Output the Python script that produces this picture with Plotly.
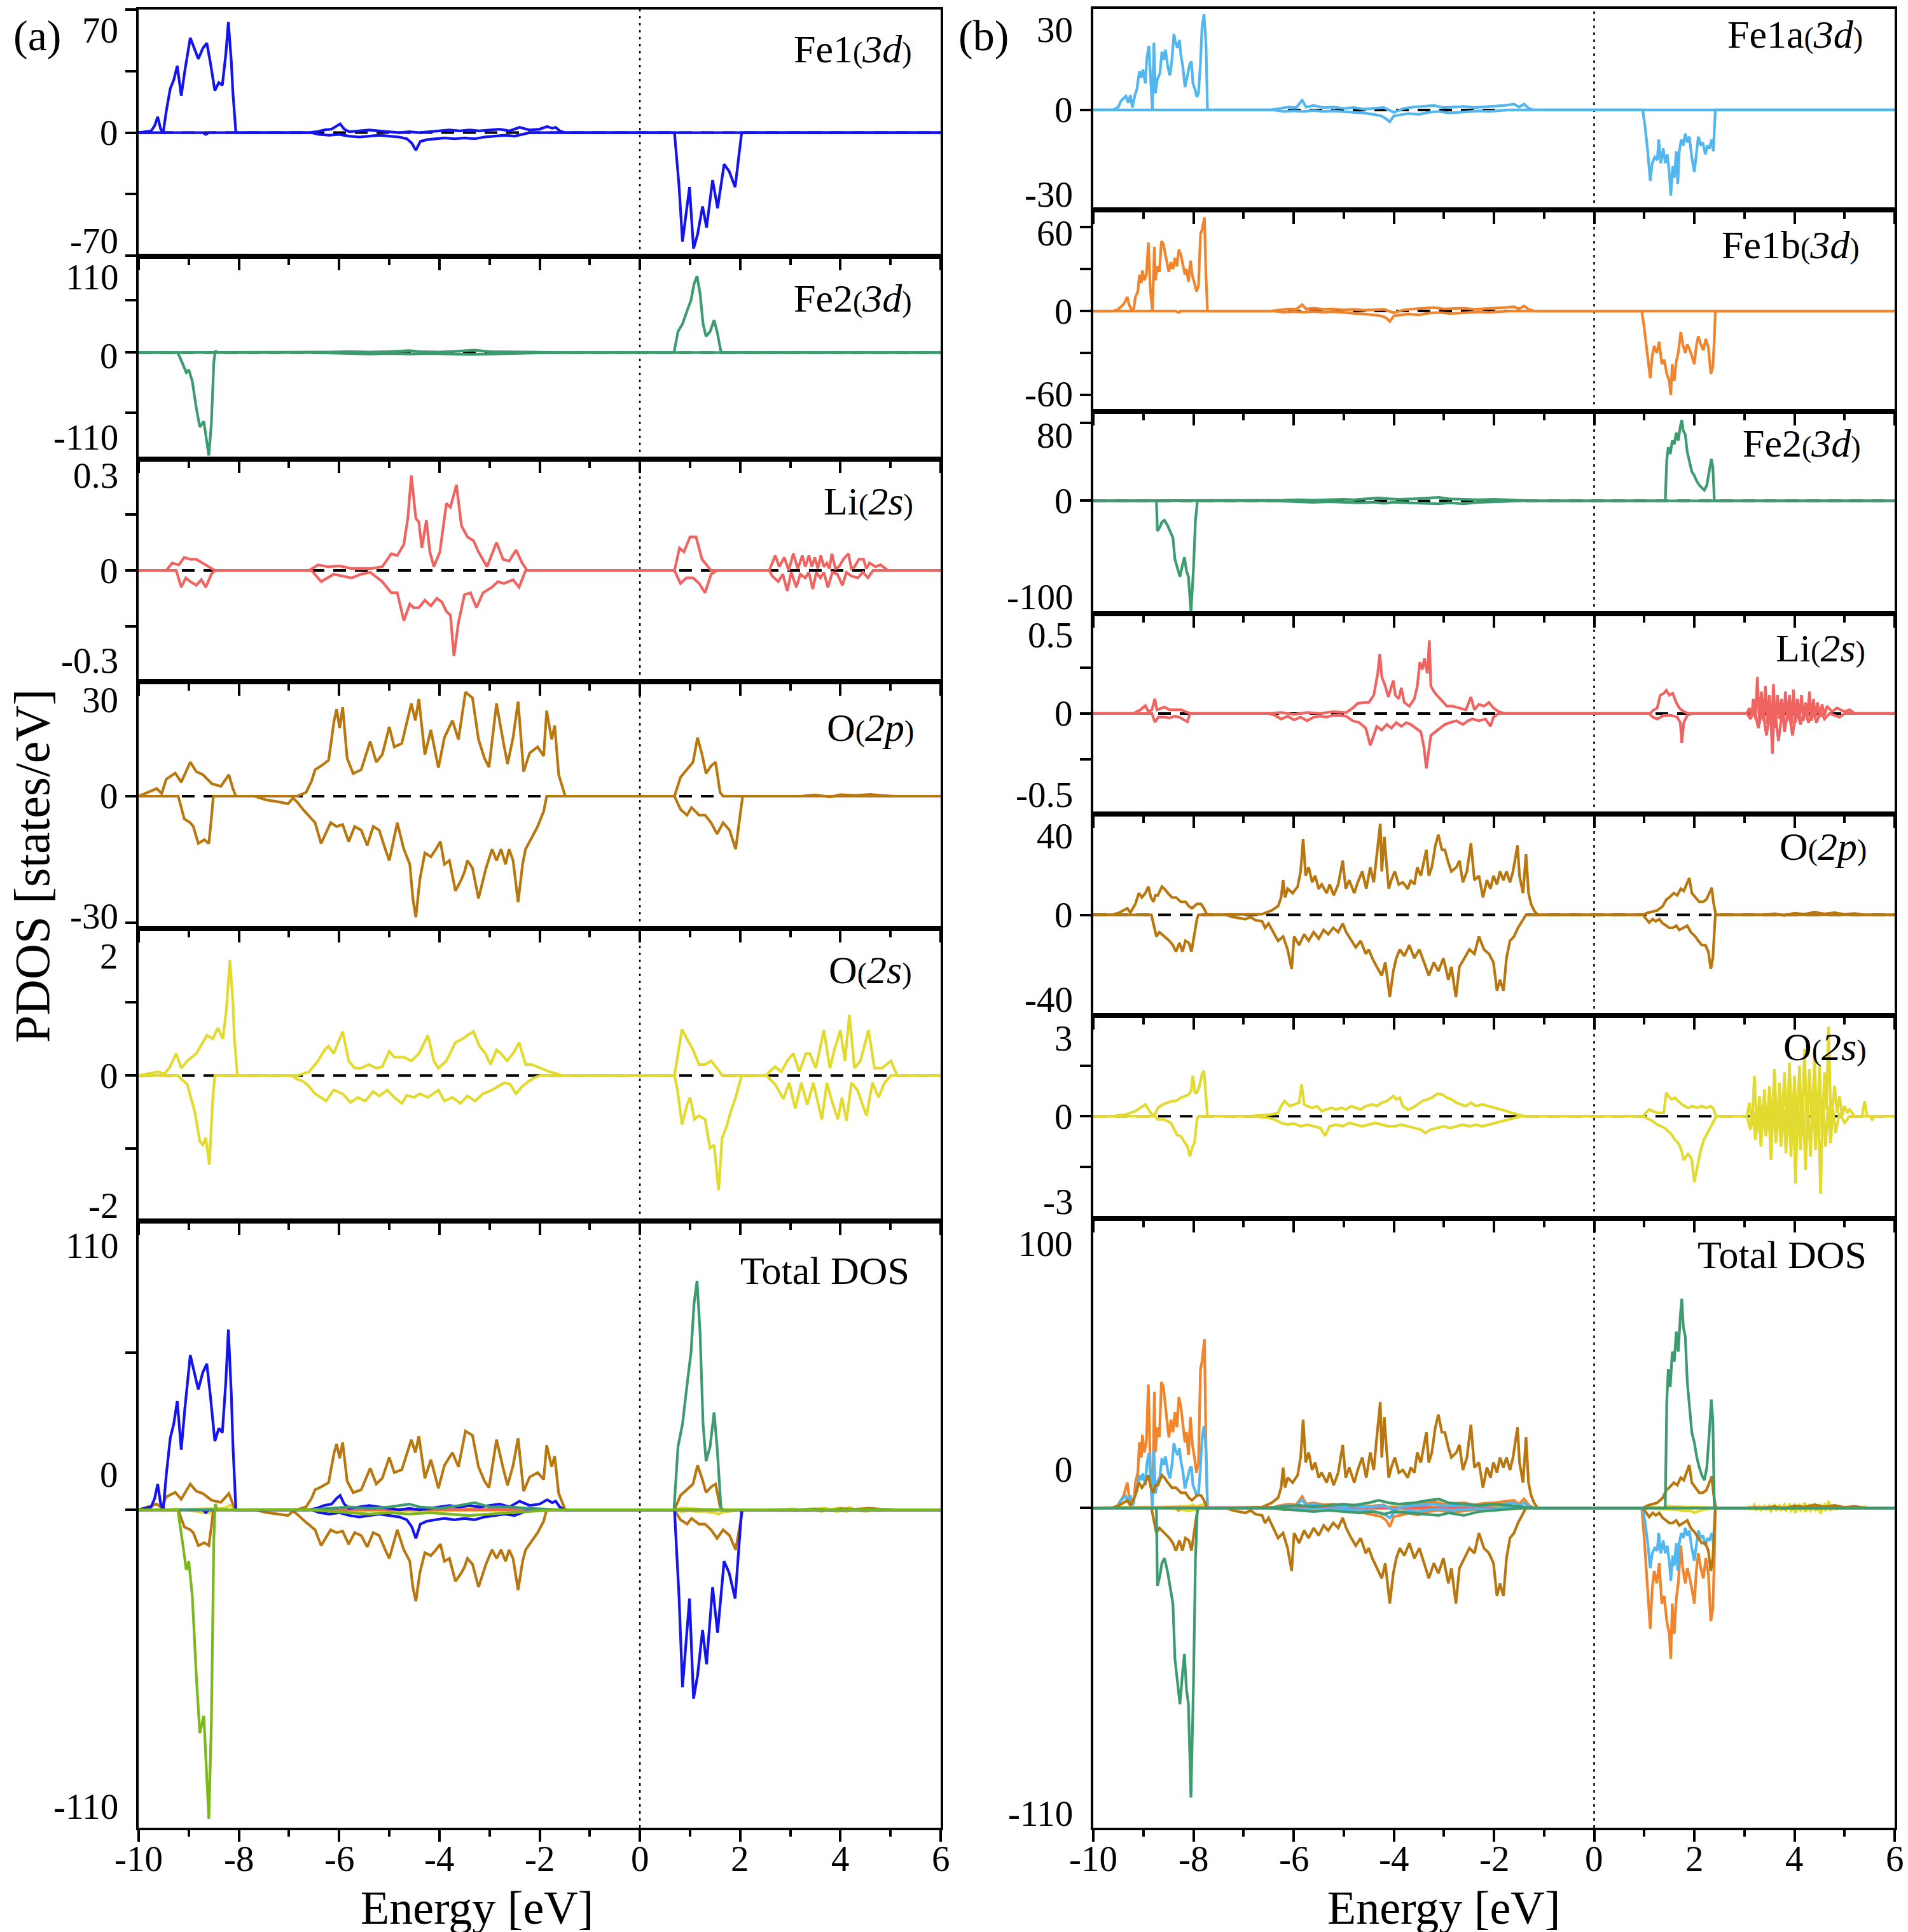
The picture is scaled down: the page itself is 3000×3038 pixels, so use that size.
import plotly.graph_objects as go

# ---------------------------------------------------------------
# PDOS curves: (energy [eV], states/eV) pairs
# ---------------------------------------------------------------

# (a) panels
a_fe1_up = [(-10, 0), (-9.75, 1), (-9.68, 4), (-9.62, 9), (-9.56, 2), (-9.51, 0), (-9.45, 12), (-9.37, 25), (-9.3, 30),
            (-9.23, 38), (-9.15, 21), (-9.08, 35), (-8.97, 54), (-8.89, 48), (-8.81, 42), (-8.72, 48), (-8.64, 51),
            (-8.57, 40), (-8.48, 24), (-8.4, 28.5), (-8.33, 27), (-8.26, 45), (-8.21, 63), (-8.15, 40), (-8.12, 23),
            (-8.06, 0), (-6.6, 0), (-6.45, 0.5), (-6.3, 1.5), (-6.15, 2), (-6.05, 4), (-5.98, 5), (-5.9, 2), (-5.8, 0.5),
            (-5.6, 1), (-5.4, 1.5), (-5.2, 1), (-5.0, 0.5), (-4.8, 0), (-4.6, 0.5), (-4.4, 0), (-4.2, 0.5), (-4.0, 1),
            (-3.8, 1.5), (-3.6, 1), (-3.4, 1.5), (-3.2, 1), (-3.0, 1.5), (-2.8, 2), (-2.6, 1), (-2.4, 3), (-2.2, 1.5),
            (-2.0, 2), (-1.85, 3.5), (-1.75, 2.5), (-1.68, 3), (-1.6, 1), (-1.5, 0), (6, 0)]
a_fe1_dn = [(-10, 0), (-8.72, 0), (-8.66, -1), (-8.6, 0), (-6.55, 0), (-6.4, -1), (-6.2, -1.5), (-6.0, -1), (-5.8, -2),
            (-5.6, -2.5), (-5.4, -2), (-5.2, -1.5), (-5.0, -2), (-4.8, -2.5), (-4.65, -3.5), (-4.55, -6), (-4.47, -10),
            (-4.38, -5), (-4.25, -4), (-4.1, -3.5), (-3.9, -3), (-3.7, -3.5), (-3.5, -3), (-3.3, -3.5), (-3.1, -2.5),
            (-2.9, -2), (-2.7, -1.5), (-2.5, -2), (-2.35, -1), (-2.2, 0), (0.69, 0), (0.78, -30), (0.85, -62),
            (0.92, -45), (0.99, -31), (1.07, -66), (1.15, -58), (1.25, -42), (1.33, -54), (1.45, -27), (1.55, -43),
            (1.68, -18), (1.78, -22), (1.9, -31), (2.03, 0), (6, 0)]
a_fe2_up = [(-10, 0), (-6.6, 0), (-6.2, 0.5), (-5.8, 1), (-5.4, 0.5), (-5.0, 1), (-4.6, 2), (-4.4, 1), (-4.0, 0.5),
            (-3.6, 1.5), (-3.3, 2.5), (-3.0, 1), (-2.6, 1), (-2.2, 0.5), (-1.6, 0), (0.68, 0), (0.76, 22), (0.85, 30),
            (0.95, 45), (1.02, 55), (1.08, 72), (1.14, 80), (1.2, 62), (1.26, 30), (1.32, 17), (1.4, 22), (1.48, 34),
            (1.54, 22), (1.62, 0), (6, 0)]
a_fe2_dn = [(-10, 0), (-9.22, 0), (-9.12, -12), (-9.05, -21), (-9.0, -18), (-8.93, -30), (-8.85, -58), (-8.78, -78),
            (-8.7, -72), (-8.64, -95), (-8.6, -108), (-8.55, -75), (-8.5, -10), (-8.47, 2), (-8.43, 0), (-6.6, 0),
            (-6.2, -0.5), (-5.8, -1), (-5.4, -1.5), (-5.0, -1), (-4.6, -1.5), (-4.2, -1), (-3.8, -1.5), (-3.4, -2),
            (-3.0, -1.5), (-2.6, -1), (-2.2, -0.5), (-1.7, 0), (6, 0)]
a_li_up = [(-10, 0), (-9.45, 0), (-9.33, 0.02), (-9.2, 0.015), (-9.09, 0.035), (-8.97, 0.03), (-8.85, 0.03),
           (-8.66, 0.015), (-8.48, 0), (-6.6, 0), (-6.42, 0.015), (-6.23, 0.01), (-5.99, 0.012), (-5.75, 0.005),
           (-5.38, 0.005), (-5.14, 0.01), (-4.96, 0.045), (-4.84, 0.04), (-4.71, 0.07), (-4.63, 0.14), (-4.56, 0.255),
           (-4.47, 0.14), (-4.41, 0.13), (-4.35, 0.06), (-4.26, 0.135), (-4.19, 0.05), (-4.11, 0.01), (-3.99, 0.05),
           (-3.86, 0.18), (-3.78, 0.17), (-3.66, 0.23), (-3.56, 0.12), (-3.44, 0.09), (-3.32, 0.08), (-3.22, 0.05),
           (-3.05, 0.01), (-2.86, 0.075), (-2.73, 0.03), (-2.61, 0.025), (-2.47, 0.055), (-2.35, 0.02), (-2.25, 0),
           (0.69, 0), (0.79, 0.06), (0.88, 0.05), (1.0, 0.09), (1.12, 0.09), (1.24, 0.03), (1.36, 0.01), (1.42, 0),
           (2.58, 0), (2.64, 0.02), (2.7, 0.04), (2.78, 0.01), (2.88, 0.035), (2.97, 0.0), (3.06, 0.045),
           (3.15, 0.005), (3.24, 0.04), (3.3, 0.01), (3.37, 0.04), (3.43, 0.01), (3.49, 0.035), (3.55, 0.005),
           (3.61, 0.04), (3.67, 0.01), (3.73, 0.02), (3.78, 0.005), (3.83, 0.045), (3.9, 0.005), (3.97, 0.01),
           (4.06, 0.03), (4.16, 0.045), (4.22, 0.005), (4.28, 0.01), (4.37, 0.03), (4.46, 0.03), (4.52, 0.005),
           (4.58, 0.02), (4.7, 0.01), (4.8, 0.015), (4.95, 0), (6, 0)]
a_li_dn = [(-10, 0), (-9.25, 0), (-9.15, -0.045), (-9.06, -0.02), (-8.97, -0.03), (-8.85, -0.04), (-8.75, -0.025),
           (-8.66, -0.045), (-8.55, -0.01), (-8.48, 0), (-6.55, 0), (-6.36, -0.03), (-6.11, -0.01), (-5.93, -0.015),
           (-5.75, -0.02), (-5.56, -0.01), (-5.38, -0.005), (-5.14, -0.03), (-4.96, -0.06), (-4.84, -0.06),
           (-4.71, -0.135), (-4.59, -0.09), (-4.51, -0.1), (-4.41, -0.1), (-4.29, -0.08), (-4.17, -0.095),
           (-4.05, -0.075), (-3.95, -0.085), (-3.86, -0.11), (-3.78, -0.12), (-3.71, -0.23), (-3.62, -0.14),
           (-3.5, -0.065), (-3.38, -0.06), (-3.26, -0.1), (-3.13, -0.06), (-2.95, -0.045), (-2.83, -0.03),
           (-2.71, -0.035), (-2.53, -0.025), (-2.41, -0.045), (-2.28, 0), (0.69, 0), (0.81, -0.035), (0.93, -0.02),
           (1.06, -0.02), (1.18, -0.035), (1.3, -0.06), (1.42, -0.01), (1.54, 0), (2.58, 0), (2.64, -0.015),
           (2.76, -0.03), (2.85, -0.01), (2.94, -0.055), (3.02, -0.005), (3.12, -0.045), (3.2, -0.01), (3.3, -0.02),
           (3.37, -0.005), (3.45, -0.05), (3.52, -0.005), (3.6, -0.02), (3.67, -0.005), (3.75, -0.045),
           (3.84, -0.005), (3.94, -0.01), (4.04, -0.04), (4.12, -0.005), (4.22, -0.015), (4.35, -0.02),
           (4.45, -0.005), (4.55, -0.02), (4.65, 0), (6, 0)]
a_o2p_up = [(-10, 0), (-9.82, 1), (-9.64, 2), (-9.54, 0.7), (-9.45, 4.5), (-9.27, 6.1), (-9.15, 3.7), (-8.97, 9),
            (-8.85, 6.5), (-8.72, 5.7), (-8.54, 3.3), (-8.36, 2.6), (-8.2, 5.7), (-8.12, 2), (-8.06, 0), (-6.84, 0),
            (-6.66, 1), (-6.55, 4), (-6.48, 7), (-6.36, 8), (-6.21, 9.5), (-6.1, 20), (-6.05, 23), (-5.99, 18),
            (-5.93, 23.5), (-5.84, 10), (-5.72, 6), (-5.56, 7), (-5.38, 14.5), (-5.26, 9), (-5.14, 11), (-5.0, 18.3),
            (-4.9, 13), (-4.75, 14), (-4.56, 24.5), (-4.48, 20), (-4.41, 25.7), (-4.29, 11), (-4.17, 17.5),
            (-4.02, 7.5), (-3.9, 15.5), (-3.74, 20), (-3.62, 15), (-3.48, 27.5), (-3.34, 26), (-3.22, 15),
            (-3.1, 10), (-3.01, 7.7), (-2.86, 24.5), (-2.73, 14.7), (-2.64, 8.5), (-2.53, 15.5), (-2.43, 25),
            (-2.32, 6.5), (-2.2, 11.4), (-2.04, 13), (-1.92, 10.6), (-1.86, 22.6), (-1.76, 15), (-1.7, 18.7),
            (-1.62, 5.7), (-1.49, 0), (0.69, 0), (0.81, 5), (0.94, 7), (1.06, 9), (1.15, 15.5), (1.24, 11),
            (1.32, 6), (1.42, 8), (1.51, 9), (1.6, 1), (1.66, 0), (3.2, 0), (3.5, 0.3), (3.8, -0.2), (4.0, 0.4),
            (4.3, 0.2), (4.6, 0.5), (4.8, 0.2), (5.1, 0), (6, 0)]
a_o2p_dn = [(-10, 0), (-9.21, 0), (-9.09, -6), (-8.97, -7), (-8.91, -8), (-8.81, -12.5), (-8.69, -11.5),
            (-8.6, -12.5), (-8.55, -6), (-8.51, 0), (-7.69, 0), (-7.45, -1), (-7.21, -1.5), (-7.02, -2),
            (-6.92, -0.5), (-6.84, -1.5), (-6.72, -3.5), (-6.62, -5), (-6.48, -7), (-6.36, -12.5), (-6.17, -7),
            (-6.05, -8), (-5.93, -7.5), (-5.81, -12), (-5.69, -8), (-5.56, -9), (-5.44, -13), (-5.32, -8),
            (-5.2, -9), (-5.08, -14), (-5.0, -17), (-4.84, -7), (-4.71, -14), (-4.59, -18), (-4.53, -27),
            (-4.47, -32), (-4.39, -22), (-4.29, -15), (-4.17, -16), (-4.07, -14), (-3.98, -12), (-3.9, -18),
            (-3.8, -17), (-3.68, -25), (-3.56, -22), (-3.5, -20), (-3.44, -17), (-3.34, -19), (-3.22, -27),
            (-3.07, -19), (-2.95, -14), (-2.86, -17), (-2.77, -14), (-2.68, -18), (-2.61, -14), (-2.53, -17),
            (-2.43, -28), (-2.34, -18), (-2.28, -14), (-2.16, -11), (-2.04, -8), (-1.92, -4), (-1.86, 0), (0.69, 0),
            (0.81, -3.5), (0.94, -5), (1.03, -3), (1.18, -5), (1.3, -5), (1.42, -7), (1.54, -10), (1.66, -7),
            (1.79, -9), (1.91, -14), (2.05, 0), (6, 0)]
a_o2s_up = [(-10, 0), (-9.76, 0.03), (-9.61, 0.05), (-9.49, 0.02), (-9.39, 0.1), (-9.25, 0.3), (-9.15, 0.1),
            (-9.03, 0.2), (-8.85, 0.3), (-8.72, 0.45), (-8.64, 0.55), (-8.52, 0.5), (-8.42, 0.65), (-8.32, 0.5),
            (-8.25, 0.9), (-8.18, 1.58), (-8.12, 1.0), (-8.09, 0.5), (-8.03, 0), (-6.84, 0), (-6.6, 0.05),
            (-6.42, 0.2), (-6.29, 0.35), (-6.21, 0.4), (-6.11, 0.3), (-5.93, 0.6), (-5.81, 0.2), (-5.69, 0.1),
            (-5.56, 0.1), (-5.41, 0.15), (-5.26, 0.1), (-5.14, 0.12), (-5.0, 0.33), (-4.9, 0.25), (-4.71, 0.25),
            (-4.56, 0.2), (-4.41, 0.3), (-4.23, 0.55), (-4.11, 0.2), (-4.02, 0.1), (-3.86, 0.2), (-3.68, 0.45),
            (-3.54, 0.5), (-3.44, 0.55), (-3.32, 0.6), (-3.2, 0.4), (-3.08, 0.3), (-2.98, 0.15), (-2.86, 0.35),
            (-2.77, 0.3), (-2.65, 0.2), (-2.53, 0.3), (-2.41, 0.45), (-2.28, 0.15), (-2.16, 0.15), (-1.98, 0.1),
            (-1.8, 0.05), (-1.68, 0.03), (-1.56, 0), (0.69, 0), (0.84, 0.63), (0.94, 0.5), (1.06, 0.35),
            (1.18, 0.15), (1.3, 0.15), (1.42, 0.2), (1.54, 0.1), (1.64, 0), (2.52, 0), (2.58, 0.05), (2.7, 0.12),
            (2.82, 0.05), (2.94, 0.2), (3.06, 0.3), (3.18, 0.05), (3.31, 0.3), (3.39, 0.3), (3.51, 0.1),
            (3.67, 0.62), (3.79, 0.1), (3.88, 0.35), (4.0, 0.62), (4.09, 0.2), (4.18, 0.83), (4.28, 0.1),
            (4.4, 0.2), (4.56, 0.62), (4.68, 0.1), (4.83, 0.1), (5.01, 0.2), (5.13, 0), (6, 0)]
a_o2s_dn = [(-10, 0), (-9.21, 0), (-9.15, -0.05), (-9.03, -0.12), (-8.88, -0.5), (-8.78, -0.9), (-8.72, -0.95),
            (-8.66, -0.85), (-8.59, -1.22), (-8.52, -0.3), (-8.48, 0), (-6.95, 0), (-6.84, -0.05), (-6.72, -0.08),
            (-6.6, -0.15), (-6.48, -0.25), (-6.36, -0.3), (-6.26, -0.35), (-6.11, -0.2), (-5.93, -0.25),
            (-5.77, -0.37), (-5.63, -0.3), (-5.48, -0.35), (-5.32, -0.22), (-5.2, -0.28), (-5.04, -0.2),
            (-4.9, -0.3), (-4.75, -0.38), (-4.65, -0.27), (-4.51, -0.3), (-4.39, -0.25), (-4.23, -0.3),
            (-4.02, -0.2), (-3.9, -0.35), (-3.74, -0.3), (-3.58, -0.38), (-3.44, -0.28), (-3.29, -0.35),
            (-3.13, -0.25), (-2.95, -0.2), (-2.83, -0.15), (-2.71, -0.1), (-2.59, -0.12), (-2.47, -0.25),
            (-2.35, -0.15), (-2.22, -0.08), (-2.1, -0.03), (-1.98, 0), (0.69, 0), (0.75, -0.2), (0.84, -0.67),
            (0.94, -0.4), (1.0, -0.3), (1.09, -0.6), (1.18, -0.55), (1.3, -0.6), (1.4, -0.99), (1.48, -0.95),
            (1.57, -1.57), (1.64, -0.85), (1.73, -0.7), (1.81, -0.5), (1.91, -0.3), (2.03, 0), (2.52, 0),
            (2.7, -0.12), (2.86, -0.32), (2.98, -0.1), (3.1, -0.45), (3.22, -0.1), (3.34, -0.4), (3.46, -0.1),
            (3.63, -0.6), (3.73, -0.1), (3.83, -0.35), (3.95, -0.6), (4.03, -0.3), (4.12, -0.62), (4.22, -0.1),
            (4.34, -0.2), (4.52, -0.55), (4.64, -0.1), (4.76, -0.3), (4.88, -0.1), (5.01, 0), (6, 0)]

# (b) panels
b_fe1a_up = [(-10, 0), (-9.61, 0), (-9.5, 1), (-9.45, 3), (-9.39, 4), (-9.35, 4.7), (-9.3, 2.4), (-9.26, 5),
             (-9.22, 0.8), (-9.17, 5), (-9.13, 7), (-9.08, 13), (-9.04, 11), (-9.01, 13.7), (-8.96, 9),
             (-8.93, 17.7), (-8.89, 21.7), (-8.85, 6.4), (-8.82, 0), (-8.79, 22.8), (-8.76, 5.7), (-8.72, 10.4),
             (-8.67, 12.4), (-8.63, 19.7), (-8.59, 17), (-8.56, 20.4), (-8.51, 14.4), (-8.47, 11.7), (-8.43, 17),
             (-8.39, 25.7), (-8.36, 23), (-8.32, 21), (-8.28, 23.7), (-8.25, 18.4), (-8.21, 14.4), (-8.17, 7.7),
             (-8.12, 11.7), (-8.07, 15.7), (-8.04, 16.4), (-8.01, 9), (-7.97, 7), (-7.93, 4.4), (-7.9, 5.7),
             (-7.86, 15.7), (-7.83, 27.7), (-7.79, 32.4), (-7.75, 22.4), (-7.72, 0), (-6.45, 0), (-6.3, 0.5),
             (-6.1, 1), (-5.95, 0.8), (-5.83, 3.3), (-5.75, 1), (-5.6, 1.5), (-5.4, 0.8), (-5.2, 1), (-5.0, 0.5),
             (-4.8, 0.8), (-4.6, 0.3), (-4.4, 0.5), (-4.2, 0.8), (-4.0, -0.8), (-3.8, 0.5), (-3.6, 1), (-3.4, 1.2),
             (-3.2, 1.5), (-3.0, 0.8), (-2.8, 1), (-2.6, 1.2), (-2.4, 0.8), (-2.2, 1), (-2.0, 1.2), (-1.8, 1.5),
             (-1.6, 2), (-1.5, 1), (-1.4, 2), (-1.3, 0.5), (-1.2, 0), (6, 0)]
b_fe1a_dn = [(-10, 0), (-6.4, 0), (-6.2, -0.5), (-6.0, -0.3), (-5.8, -0.5), (-5.6, -0.2), (-5.4, -0.5),
             (-5.2, -0.3), (-5.0, -0.6), (-4.8, -0.8), (-4.6, -1), (-4.4, -1.5), (-4.25, -2), (-4.15, -3),
             (-4.08, -4), (-4.0, -2), (-3.85, -1.5), (-3.7, -1.2), (-3.5, -1.5), (-3.3, -0.8), (-3.1, -0.5),
             (-2.9, -1), (-2.7, -0.8), (-2.5, -0.5), (-2.3, -0.3), (-2.1, -0.5), (-1.9, -0.2), (-1.7, 0), (0.97, 0),
             (1.02, -6), (1.07, -14), (1.12, -24), (1.16, -18), (1.21, -16), (1.26, -17), (1.29, -10), (1.33, -18),
             (1.38, -13), (1.42, -18), (1.46, -15), (1.5, -21), (1.53, -29), (1.57, -19), (1.6, -23), (1.64, -14),
             (1.67, -25), (1.7, -14), (1.74, -10), (1.78, -12), (1.82, -8), (1.86, -11), (1.9, -9), (1.95, -16),
             (2.0, -21), (2.04, -15), (2.08, -9), (2.13, -12), (2.17, -11), (2.22, -15), (2.26, -12), (2.3, -13),
             (2.35, -10), (2.38, -14), (2.42, 0), (6, 0)]
b_fe1b_up = [(-10, 0), (-9.61, 0), (-9.51, 1), (-9.45, 3), (-9.39, 5), (-9.35, 8), (-9.32, 10), (-9.29, 5),
             (-9.24, 1), (-9.19, 2), (-9.16, 10), (-9.11, 14), (-9.08, 26), (-9.04, 20), (-9.02, 29), (-8.98, 22),
             (-8.94, 26), (-8.9, 49), (-8.86, 15), (-8.82, 0), (-8.78, 46), (-8.76, 22), (-8.72, 32), (-8.68, 28),
             (-8.64, 50), (-8.6, 48), (-8.56, 39), (-8.52, 33), (-8.49, 28), (-8.45, 35), (-8.41, 30), (-8.37, 38),
             (-8.33, 32), (-8.29, 44), (-8.25, 40), (-8.21, 32), (-8.17, 26), (-8.14, 30), (-8.1, 21), (-8.06, 36),
             (-8.02, 25), (-7.98, 20), (-7.94, 14), (-7.9, 18), (-7.86, 55), (-7.83, 58), (-7.78, 67), (-7.75, 25),
             (-7.72, 0), (-6.45, 0), (-6.3, 0.8), (-6.1, 1.5), (-5.95, 1.2), (-5.83, 4.5), (-5.75, 1.5), (-5.6, 2),
             (-5.4, 1.2), (-5.2, 1.5), (-5.0, 0.8), (-4.8, 1.2), (-4.6, 0.5), (-4.4, 0.8), (-4.2, 1.2), (-4.0, -1.2),
             (-3.8, 0.8), (-3.6, 1.5), (-3.4, 2), (-3.2, 2.5), (-3.0, 1.5), (-2.8, 1.8), (-2.6, 2), (-2.4, 1.2),
             (-2.2, 1.8), (-2.0, 2), (-1.8, 2.5), (-1.6, 3), (-1.5, 1.5), (-1.4, 3.6), (-1.3, 1), (-1.2, 0), (6, 0)]
b_fe1b_dn = [(-10, 0), (-8.35, 0), (-8.3, -1), (-8.25, 0), (-6.4, 0), (-6.2, -0.8), (-6.0, -0.5), (-5.8, -0.8),
             (-5.6, -0.4), (-5.4, -0.8), (-5.2, -0.5), (-5.0, -1), (-4.8, -1.5), (-4.6, -2), (-4.4, -2.8),
             (-4.25, -3.5), (-4.15, -5), (-4.08, -7.5), (-4.0, -3.5), (-3.85, -2.8), (-3.7, -2.2), (-3.5, -2.8),
             (-3.3, -1.5), (-3.1, -1), (-2.9, -1.8), (-2.7, -1.5), (-2.5, -1), (-2.3, -0.6), (-2.1, -1),
             (-1.9, -0.4), (-1.7, 0), (0.95, 0), (1.0, -12), (1.06, -30), (1.12, -48), (1.16, -32), (1.2, -25),
             (1.25, -30), (1.3, -22), (1.35, -38), (1.4, -35), (1.45, -45), (1.5, -50), (1.53, -60), (1.56, -38),
             (1.6, -50), (1.64, -36), (1.68, -30), (1.73, -15), (1.77, -24), (1.82, -30), (1.86, -24), (1.9, -27),
             (1.95, -32), (2.0, -38), (2.04, -25), (2.08, -18), (2.13, -24), (2.18, -28), (2.23, -20), (2.28, -26),
             (2.33, -45), (2.37, -40), (2.4, -20), (2.42, 0), (6, 0)]
b_fe2_up = [(-10, 0), (-6.5, 0), (-6.2, 0.5), (-5.9, 1), (-5.6, 0.5), (-5.3, 1), (-5.0, 1.5), (-4.8, 1), (-4.5, 2),
            (-4.3, 3), (-4.1, 2), (-3.9, 1.5), (-3.6, 2), (-3.3, 3), (-3.1, 3.5), (-2.9, 2), (-2.6, 1.5), (-2.3, 1),
            (-2.0, 1.5), (-1.7, 1), (-1.4, 0.5), (-1.2, 0), (1.42, 0), (1.45, 42), (1.48, 55), (1.52, 48),
            (1.56, 62), (1.6, 58), (1.64, 70), (1.68, 62), (1.72, 76), (1.75, 83), (1.78, 72), (1.82, 68),
            (1.86, 50), (1.9, 42), (1.95, 30), (2.0, 26), (2.05, 20), (2.1, 16), (2.15, 13), (2.2, 11), (2.25, 16),
            (2.3, 30), (2.34, 43), (2.37, 35), (2.4, 0), (6, 0)]
b_fe2_dn = [(-10, 0), (-8.74, 0), (-8.72, -31), (-8.67, -27), (-8.63, -22), (-8.58, -20), (-8.52, -25),
            (-8.46, -32), (-8.41, -38), (-8.37, -60), (-8.32, -68), (-8.27, -78), (-8.22, -66), (-8.18, -58),
            (-8.14, -72), (-8.1, -78), (-8.05, -115), (-8.0, -70), (-7.96, -20), (-7.92, 0), (-6.5, 0),
            (-6.2, -0.5), (-5.9, -1), (-5.6, -1.5), (-5.3, -1), (-5.0, -1.5), (-4.7, -2), (-4.4, -1.5),
            (-4.2, -2.5), (-4.0, -1.5), (-3.7, -2), (-3.4, -2.5), (-3.1, -3), (-2.9, -2), (-2.6, -3), (-2.3, -1.5),
            (-2.0, -1), (-1.7, -0.5), (-1.4, 0), (6, 0)]
b_li_up = [(-10, 0), (-9.2, 0), (-9.13, 0.01), (-9.06, 0.02), (-8.96, 0.043), (-8.9, 0.01), (-8.83, 0.02),
           (-8.77, 0.08), (-8.73, 0.02), (-8.65, 0.03), (-8.58, 0.035), (-8.48, 0.02), (-8.38, 0.02), (-8.25, 0.02),
           (-8.16, 0.01), (-8.06, 0), (-6.5, 0), (-6.25, 0.005), (-5.99, -0.005), (-5.73, 0.005), (-5.47, 0),
           (-5.21, 0.01), (-4.95, 0.005), (-4.82, 0.03), (-4.72, 0.055), (-4.6, 0.06), (-4.5, 0.06), (-4.4, 0.1),
           (-4.32, 0.22), (-4.28, 0.325), (-4.24, 0.2), (-4.17, 0.15), (-4.11, 0.09), (-4.01, 0.18), (-3.97, 0.1),
           (-3.9, 0.08), (-3.85, 0.14), (-3.79, 0.06), (-3.69, 0.04), (-3.59, 0.08), (-3.53, 0.15), (-3.48, 0.28),
           (-3.43, 0.24), (-3.39, 0.3), (-3.33, 0.22), (-3.29, 0.4), (-3.26, 0.15), (-3.2, 0.12), (-3.14, 0.1),
           (-3.04, 0.07), (-2.94, 0.04), (-2.82, 0.04), (-2.69, 0.03), (-2.56, 0.02), (-2.46, 0.09), (-2.39, 0.02),
           (-2.3, 0.05), (-2.2, 0.04), (-2.1, 0.06), (-2.01, 0.03), (-1.91, 0.01), (-1.78, 0), (1.12, 0),
           (1.19, 0.02), (1.26, 0.03), (1.32, 0.1), (1.39, 0.11), (1.44, 0.127), (1.5, 0.1), (1.57, 0.11),
           (1.64, 0.06), (1.7, 0.03), (1.79, 0.01), (1.88, 0), (3.05, 0), (3.1, 0.03), (3.14, -0.02), (3.18, 0.08),
           (3.22, -0.03), (3.26, 0.2), (3.3, -0.05), (3.34, 0.12), (3.38, -0.04), (3.42, 0.15), (3.46, -0.06),
           (3.5, 0.1), (3.54, -0.1), (3.58, 0.16), (3.62, -0.08), (3.66, 0.1), (3.7, -0.03), (3.74, 0.08),
           (3.78, -0.05), (3.82, 0.12), (3.86, -0.04), (3.9, 0.1), (3.94, -0.06), (3.98, 0.13), (4.02, -0.05),
           (4.06, 0.08), (4.1, -0.03), (4.14, 0.1), (4.18, -0.04), (4.22, 0.06), (4.26, -0.02), (4.3, 0.12),
           (4.34, -0.04), (4.38, 0.08), (4.42, -0.02), (4.46, 0.06), (4.5, -0.02), (4.55, 0.05), (4.6, -0.01),
           (4.65, 0.04), (4.75, 0.01), (4.85, 0.03), (5.0, 0.01), (5.1, 0.02), (5.2, 0), (6, 0)]
b_li_dn = [(-10, 0), (-8.83, 0), (-8.77, -0.047), (-8.7, -0.02), (-8.58, -0.02), (-8.48, -0.025), (-8.38, -0.015),
           (-8.28, -0.02), (-8.19, -0.035), (-8.12, -0.045), (-8.07, 0), (-6.5, 0), (-6.38, -0.01), (-6.25, -0.03),
           (-6.12, -0.015), (-5.99, -0.035), (-5.86, -0.02), (-5.73, -0.04), (-5.6, -0.02), (-5.47, -0.015),
           (-5.34, -0.02), (-5.21, -0.01), (-5.08, -0.01), (-4.95, -0.015), (-4.82, -0.04), (-4.69, -0.05),
           (-4.56, -0.08), (-4.47, -0.174), (-4.4, -0.12), (-4.34, -0.07), (-4.24, -0.09), (-4.14, -0.06),
           (-4.05, -0.08), (-3.95, -0.05), (-3.85, -0.07), (-3.75, -0.05), (-3.66, -0.06), (-3.56, -0.08),
           (-3.46, -0.1), (-3.4, -0.18), (-3.35, -0.3), (-3.3, -0.2), (-3.26, -0.12), (-3.17, -0.1), (-3.07, -0.08),
           (-2.98, -0.06), (-2.88, -0.05), (-2.75, -0.04), (-2.62, -0.06), (-2.52, -0.04), (-2.43, -0.03),
           (-2.3, -0.04), (-2.17, -0.03), (-2.07, -0.07), (-2.01, -0.02), (-1.91, 0), (1.1, 0), (1.17, -0.02),
           (1.26, -0.03), (1.39, -0.01), (1.53, -0.01), (1.66, -0.02), (1.72, -0.05), (1.75, -0.16), (1.79, -0.05),
           (1.86, -0.01), (1.95, 0), (3.05, 0), (3.12, -0.03), (3.2, 0.02), (3.28, -0.08), (3.36, 0.03),
           (3.44, -0.12), (3.52, 0.02), (3.56, -0.22), (3.6, 0.04), (3.68, -0.15), (3.76, 0.02), (3.8, -0.1),
           (3.88, 0.03), (3.96, -0.12), (4.04, 0.02), (4.12, -0.06), (4.2, 0.02), (4.28, -0.05), (4.36, 0.02),
           (4.44, -0.05), (4.52, 0.01), (4.6, -0.03), (4.7, 0), (4.9, -0.02), (5.0, 0), (6, 0)]
b_o2p_up = [(-10, 0), (-9.61, 0), (-9.48, 1), (-9.39, 2), (-9.32, 3), (-9.26, 1), (-9.16, 5), (-9.09, 10), (-9.03, 8),
            (-8.96, 10), (-8.9, 13), (-8.85, 8), (-8.8, 6), (-8.76, 9), (-8.71, 9), (-8.63, 13), (-8.58, 12),
            (-8.51, 10), (-8.43, 8), (-8.35, 8), (-8.25, 6), (-8.16, 6), (-8.09, 4), (-8.03, 3), (-7.93, 5),
            (-7.85, 5), (-7.79, 3), (-7.73, 0), (-7.02, 0), (-6.63, 0.3), (-6.44, 2), (-6.31, 4), (-6.25, 8),
            (-6.21, 16), (-6.17, 8), (-6.12, 12), (-6.02, 10), (-5.92, 13), (-5.86, 20), (-5.81, 35), (-5.76, 18),
            (-5.7, 22), (-5.63, 15), (-5.57, 18), (-5.5, 12), (-5.44, 14), (-5.34, 10), (-5.28, 14), (-5.2, 9),
            (-5.11, 14), (-5.02, 25), (-4.96, 12), (-4.89, 16), (-4.79, 10), (-4.72, 15), (-4.63, 20), (-4.55, 12),
            (-4.47, 22), (-4.4, 15), (-4.34, 28), (-4.27, 42), (-4.24, 20), (-4.19, 36), (-4.14, 22), (-4.1, 12),
            (-4.05, 16), (-3.98, 20), (-3.9, 14), (-3.82, 15), (-3.72, 12), (-3.66, 16), (-3.59, 14), (-3.53, 22),
            (-3.46, 18), (-3.35, 30), (-3.3, 18), (-3.24, 22), (-3.17, 32), (-3.11, 37), (-3.04, 30), (-2.98, 30),
            (-2.91, 24), (-2.85, 20), (-2.75, 22), (-2.69, 25), (-2.62, 15), (-2.54, 20), (-2.46, 33), (-2.39, 16),
            (-2.3, 18), (-2.22, 8), (-2.14, 16), (-2.07, 12), (-2.01, 18), (-1.94, 14), (-1.88, 20), (-1.81, 16),
            (-1.75, 20), (-1.68, 15), (-1.62, 20), (-1.53, 32), (-1.49, 18), (-1.42, 10), (-1.36, 28), (-1.31, 10),
            (-1.26, 5), (-1.2, 2), (-1.13, 0), (0.97, 0), (1.08, 1), (1.26, 2), (1.37, 4), (1.44, 7), (1.5, 8),
            (1.59, 10), (1.66, 9), (1.73, 12), (1.79, 11), (1.86, 15), (1.9, 17), (1.95, 10), (2.02, 8), (2.1, 6),
            (2.17, 6), (2.24, 7), (2.3, 10), (2.35, 12.5), (2.38, 6), (2.43, 0), (3.4, 0), (3.6, 0.5), (3.8, -0.3),
            (4.0, 0.8), (4.2, 0.3), (4.4, 1.2), (4.6, 0.4), (4.8, 1.0), (5.0, 0.2), (5.2, 0.6), (5.4, 0), (6, 0)]
b_o2p_dn = [(-10, 0), (-8.84, 0), (-8.74, -10), (-8.68, -8), (-8.58, -10), (-8.48, -12), (-8.41, -14), (-8.35, -17),
            (-8.28, -13), (-8.22, -17), (-8.16, -12), (-8.09, -13), (-8.04, -17), (-7.99, -10), (-7.93, -2),
            (-7.9, 0), (-7.35, 0), (-7.22, -1), (-7.09, -1.5), (-6.96, -2), (-6.86, -1), (-6.76, -2.5), (-6.63, -3),
            (-6.57, -6), (-6.5, -4), (-6.41, -8), (-6.31, -12), (-6.21, -10), (-6.12, -16), (-6.04, -25),
            (-5.99, -10), (-5.89, -14), (-5.79, -9), (-5.7, -12), (-5.6, -8), (-5.5, -11), (-5.4, -7), (-5.31, -9),
            (-5.21, -6), (-5.11, -8), (-5.02, -4), (-4.95, -8), (-4.85, -12), (-4.76, -15), (-4.66, -12),
            (-4.56, -18), (-4.5, -16), (-4.43, -20), (-4.34, -24), (-4.24, -28), (-4.17, -22), (-4.08, -38),
            (-4.01, -26), (-3.95, -20), (-3.88, -16), (-3.79, -19), (-3.69, -14), (-3.59, -20), (-3.49, -16),
            (-3.4, -22), (-3.3, -28), (-3.2, -22), (-3.11, -26), (-3.01, -20), (-2.91, -30), (-2.85, -24),
            (-2.76, -38), (-2.69, -24), (-2.59, -20), (-2.49, -16), (-2.39, -18), (-2.3, -10), (-2.2, -16),
            (-2.1, -18), (-2.01, -22), (-1.94, -35), (-1.88, -30), (-1.81, -35), (-1.75, -20), (-1.68, -12),
            (-1.6, -10), (-1.52, -6), (-1.44, -3), (-1.36, 0), (0.97, 0), (1.03, -1.5), (1.1, -3.6), (1.17, -2),
            (1.23, -3), (1.3, -2), (1.37, -4), (1.44, -5), (1.5, -6), (1.57, -6), (1.64, -5), (1.7, -7), (1.79, -6),
            (1.86, -5), (1.93, -8), (2.02, -10), (2.08, -12), (2.15, -14), (2.22, -14), (2.28, -17), (2.33, -25),
            (2.37, -20), (2.42, 0), (6, 0)]
b_o2s_up = [(-10, 0), (-9.6, 0), (-9.35, 0.05), (-9.16, 0.15), (-9.06, 0.25), (-8.96, 0.35), (-8.9, 0.2),
            (-8.83, 0.05), (-8.77, 0.05), (-8.71, 0.25), (-8.61, 0.35), (-8.51, 0.4), (-8.43, 0.45), (-8.35, 0.45),
            (-8.25, 0.55), (-8.16, 0.6), (-8.09, 0.65), (-8.05, 0.75), (-8.01, 1.2), (-7.97, 0.7), (-7.93, 0.7),
            (-7.88, 0.9), (-7.83, 1.25), (-7.79, 1.35), (-7.75, 0.5), (-7.72, 0), (-6.89, 0), (-6.63, 0.02),
            (-6.44, 0.05), (-6.31, 0.1), (-6.25, 0.3), (-6.18, 0.45), (-6.08, 0.3), (-5.99, 0.35), (-5.89, 0.4),
            (-5.84, 0.95), (-5.79, 0.35), (-5.73, 0.3), (-5.63, 0.25), (-5.53, 0.3), (-5.44, 0.15), (-5.34, 0.2),
            (-5.24, 0.25), (-5.15, 0.2), (-5.05, 0.25), (-4.95, 0.2), (-4.85, 0.3), (-4.76, 0.25), (-4.66, 0.2),
            (-4.56, 0.3), (-4.43, 0.35), (-4.34, 0.3), (-4.24, 0.4), (-4.14, 0.45), (-4.01, 0.6), (-3.95, 0.5),
            (-3.88, 0.55), (-3.82, 0.3), (-3.72, 0.2), (-3.62, 0.25), (-3.53, 0.35), (-3.43, 0.45), (-3.33, 0.5),
            (-3.24, 0.55), (-3.14, 0.66), (-3.04, 0.65), (-2.94, 0.55), (-2.85, 0.5), (-2.75, 0.4), (-2.65, 0.35),
            (-2.56, 0.3), (-2.46, 0.4), (-2.36, 0.3), (-2.23, 0.35), (-2.1, 0.3), (-1.97, 0.25), (-1.84, 0.2),
            (-1.74, 0.15), (-1.65, 0.1), (-1.52, 0.05), (-1.39, 0), (0.97, 0), (1.03, 0.1), (1.1, 0.2),
            (1.17, 0.15), (1.26, 0.1), (1.39, 0.1), (1.44, 0.7), (1.48, 0.6), (1.55, 0.5), (1.61, 0.55),
            (1.68, 0.45), (1.75, 0.35), (1.81, 0.3), (1.88, 0.25), (1.97, 0.3), (2.06, 0.25), (2.15, 0.3),
            (2.24, 0.25), (2.33, 0.3), (2.39, 0.2), (2.43, 0), (3.05, 0), (3.1, 0.4), (3.15, -0.3), (3.2, 1.2),
            (3.25, -0.5), (3.3, 0.6), (3.35, -0.2), (3.4, 0.8), (3.45, -0.4), (3.5, 0.9), (3.55, -0.3), (3.6, 1.4),
            (3.65, -0.5), (3.7, 1.0), (3.75, -0.2), (3.8, 1.3), (3.85, -0.6), (3.9, 1.6), (3.95, -0.4), (4.0, 1.2),
            (4.05, -0.5), (4.1, 1.5), (4.15, -0.6), (4.2, 2.0), (4.25, -0.4), (4.3, 1.4), (4.35, -0.3), (4.4, 1.8),
            (4.45, -0.5), (4.5, 1.5), (4.55, -0.6), (4.6, 1.3), (4.64, 0.2), (4.68, 2.66), (4.73, -0.3), (4.8, 0.9),
            (4.85, 0.1), (4.9, 0.6), (4.95, 0.0), (5.0, 0.3), (5.05, 0.1), (5.1, 0.2), (5.2, 0), (5.35, 0),
            (5.4, 0.45), (5.45, 0), (6, 0)]
b_o2s_dn = [(-10, 0), (-8.77, 0), (-8.71, -0.1), (-8.58, -0.1), (-8.45, -0.2), (-8.4, -0.35), (-8.33, -0.55),
            (-8.25, -0.6), (-8.19, -0.75), (-8.12, -0.9), (-8.07, -1.19), (-8.02, -0.9), (-7.98, -0.8),
            (-7.93, -0.1), (-7.9, 0), (-6.89, 0), (-6.63, -0.03), (-6.5, -0.05), (-6.38, -0.1), (-6.25, -0.2),
            (-6.12, -0.25), (-5.99, -0.22), (-5.86, -0.3), (-5.73, -0.25), (-5.6, -0.3), (-5.47, -0.35),
            (-5.37, -0.58), (-5.28, -0.3), (-5.15, -0.25), (-5.02, -0.3), (-4.89, -0.2), (-4.76, -0.25),
            (-4.63, -0.3), (-4.5, -0.25), (-4.37, -0.2), (-4.24, -0.25), (-4.11, -0.3), (-3.98, -0.3),
            (-3.85, -0.25), (-3.72, -0.3), (-3.59, -0.35), (-3.46, -0.4), (-3.37, -0.5), (-3.27, -0.4),
            (-3.14, -0.35), (-3.01, -0.3), (-2.88, -0.35), (-2.75, -0.3), (-2.62, -0.25), (-2.49, -0.3),
            (-2.36, -0.25), (-2.23, -0.3), (-2.1, -0.25), (-1.97, -0.2), (-1.84, -0.15), (-1.71, -0.1),
            (-1.58, -0.05), (-1.45, 0), (0.97, 0), (1.03, -0.05), (1.1, -0.1), (1.17, -0.15), (1.26, -0.25),
            (1.35, -0.3), (1.41, -0.35), (1.48, -0.45), (1.55, -0.55), (1.61, -0.7), (1.68, -0.8), (1.74, -1.0),
            (1.79, -1.3), (1.84, -1.2), (1.88, -1.1), (1.95, -1.3), (2.0, -1.96), (2.06, -1.5), (2.13, -1.0),
            (2.19, -0.7), (2.26, -0.5), (2.33, -0.3), (2.39, -0.15), (2.44, 0), (3.05, 0), (3.12, -0.4),
            (3.17, 0.2), (3.22, -0.7), (3.28, 0.3), (3.33, -0.9), (3.38, 0.2), (3.43, -0.6), (3.48, 0.3),
            (3.53, -1.3), (3.58, 0.4), (3.63, -0.8), (3.68, 0.3), (3.73, -0.9), (3.78, 0.2), (3.83, -1.1),
            (3.88, 0.5), (3.93, -1.2), (3.98, 0.3), (4.02, -2.0), (4.07, 0.4), (4.12, -1.0), (4.17, 0.5),
            (4.22, -1.6), (4.27, 0.3), (4.32, -1.2), (4.37, 0.6), (4.42, -1.0), (4.47, 0.4), (4.52, -2.3),
            (4.57, 0.5), (4.62, -0.9), (4.67, 0.3), (4.72, -0.8), (4.77, 0.2), (4.82, -0.5), (4.9, 0.1),
            (5.0, -0.2), (5.1, 0), (5.5, 0), (5.55, -0.1), (5.6, 0), (6, 0)]

# axis tick label texts
energy_ticks = [-10, -8, -6, -4, -2, 0, 2, 4, 6]
energy_labels = ['-10', '-8', '-6', '-4', '-2', '0', '2', '4', '6']
a_fe1_labels = ['70', '0', '-70']
a_fe2_labels = ['110', '0', '-110']
a_li_labels = ['0.3', '0', '-0.3']
a_o2p_labels = ['30', '0', '-30']
a_o2s_labels = ['2', '0', '-2']
a_tot_labels = ['110', '0', '-110']
b_fe1a_labels = ['30', '0', '-30']
b_fe1b_labels = ['60', '0', '-60']
b_fe2_labels = ['80', '0', '-100']
b_li_labels = ['0.5', '0', '-0.5']
b_o2p_labels = ['40', '0', '-40']
b_o2s_labels = ['3', '0', '-3']
b_tot_labels = ['100', '0', '-110']

# ---------------------------------------------------------------
W, H = 3000, 3038
FONT = 'Liberation Serif'
BLUE = '#1414f0'
TEAL = '#3c9c70'
LIME = '#7ab81e'
RED = '#ef6461'
BROWN = '#b8770f'
YELLOW = '#e3da30'
LBLUE = '#52b6ef'
ORANGE = '#f1852d'
LW = 4.2
TICKFONT = dict(family=FONT, size=57, color='black')


def orb(name, o):
    sm = '<span style="font-size:46px">%s</span>'
    return name + sm % '(' + '<i>' + o + '</i>' + sm % ')'


COLX = {'a': (210, 1471), 'b': (1711, 2971)}
LABX = {'a': 180, 'b': 1681}

# panel geometry in figure pixels; y range / label spots in data units
panels = [
    dict(col='a', top=7, bot=395, yr=[-70.4, 70.1], ticks=[-70, -35, 0, 35, 70],
         labs=[58.5, 0, -61.4], text=a_fe1_labels, title=orb('Fe1', '3d'), tpos=(1428, 69),
         curves=[(a_fe1_up, BLUE), (a_fe1_dn, BLUE)]),
    dict(col='a', top=395, bot=714, yr=[-111.7, 100.9], ticks=[-63, 0, 55],
         labs=[79, -3.5, -89], text=a_fe2_labels, title=orb('Fe2', '3d'), tpos=(1428, 461),
         curves=[(a_fe2_up, TEAL), (a_fe2_dn, TEAL)]),
    dict(col='a', top=714, bot=1064, yr=[-0.299, 0.299], ticks=[-0.15, 0, 0.15],
         labs=[0.255, 0, -0.241], text=a_li_labels, title=orb('Li', '2s'), tpos=(1430, 780),
         curves=[(a_li_up, RED), (a_li_dn, RED)]),
    dict(col='a', top=1064, bot=1452, yr=[-34.96, 30.25], ticks=[-33.4, 0],
         labs=[25.5, 0, -31.6], text=a_o2p_labels, title=orb('O', '2p'), tpos=(1431, 1136),
         curves=[(a_o2p_up, BROWN), (a_o2p_dn, BROWN)]),
    dict(col='a', top=1452, bot=1912, yr=[-1.99, 2.01], ticks=[-1, 0, 1],
         labs=[1.63, 0, -1.78], text=a_o2s_labels, title=orb('O', '2s'), tpos=(1428, 1517),
         curves=[(a_o2s_up, YELLOW), (a_o2s_dn, YELLOW)]),
    dict(col='a', top=1912, bot=2866, yr=[-111.1, 100.9], ticks=[0, 55],
         labs=[92.4, 12.4, -103.7], text=a_tot_labels, title='Total DOS', tpos=(1424, 1990),
         curves=[(a_o2s_up, YELLOW), (a_o2s_dn, YELLOW), (a_li_up, RED), (a_li_dn, RED),
                 (a_o2p_up, BROWN), (a_o2p_dn, BROWN), (a_fe1_up, BLUE), (a_fe1_dn, BLUE),
                 (a_fe2_up, TEAL), (a_fe2_dn, LIME)]),
    dict(col='b', top=6, bot=322, yr=[-33.8, 34.2], ticks=[0],
         labs=[27.3, 0, -28.6], text=b_fe1a_labels, title=orb('Fe1a', '3d'), tpos=(2923, 46),
         curves=[(b_fe1a_up, LBLUE), (b_fe1a_dn, LBLUE)]),
    dict(col='b', top=322, bot=639, yr=[-71.9, 72.4], ticks=[-60, -30, 0, 30, 60],
         labs=[56, 0, -59.6], text=b_fe1b_labels, title=orb('Fe1b', '3d'), tpos=(2918, 377),
         curves=[(b_fe1b_up, ORANGE), (b_fe1b_dn, ORANGE)]),
    dict(col='b', top=639, bot=957, yr=[-116, 91.8], ticks=[0, 80],
         labs=[67.6, 0, -98.4], text=b_fe2_labels, title=orb('Fe2', '3d'), tpos=(2920, 689),
         curves=[(b_fe2_up, TEAL), (b_fe2_dn, TEAL)]),
    dict(col='b', top=957, bot=1272, yr=[-0.549, 0.545], ticks=[-0.25, 0, 0.25],
         labs=[0.427, 0, -0.444], text=b_li_labels, title=orb('Li', '2s'), tpos=(2927, 1011),
         curves=[(b_li_up, RED), (b_li_dn, RED)]),
    dict(col='b', top=1272, bot=1589, yr=[-46.5, 46.5], ticks=[0],
         labs=[36.5, 0, -38.9], text=b_o2p_labels, title=orb('O', '2p'), tpos=(2929, 1323),
         curves=[(b_o2p_up, BROWN), (b_o2p_dn, BROWN)]),
    dict(col='b', top=1589, bot=1908, yr=[-3.04, 2.99], ticks=[-1.5, 0, 1.5],
         labs=[2.31, 0, -2.53], text=b_o2s_labels, title=orb('O', '2s'), tpos=(2929, 1638),
         curves=[(b_o2s_up, YELLOW), (b_o2s_dn, YELLOW)]),
    dict(col='b', top=1908, bot=2866, yr=[-127, 114.9], ticks=[0],
         labs=[104.8, 15.2, -121.3], text=b_tot_labels, title='Total DOS', tpos=(2929, 1965),
         curves=[(b_o2s_up, YELLOW), (b_o2s_dn, YELLOW), (b_li_up, RED), (b_li_dn, RED),
                 (b_fe1b_up, ORANGE), (b_fe1b_dn, ORANGE), (b_fe1a_up, LBLUE), (b_fe1a_dn, LBLUE),
                 (b_o2p_up, BROWN), (b_o2p_dn, BROWN), (b_fe2_up, TEAL), (b_fe2_dn, TEAL)]),
]
bottom_ids = {6, 13}

fig = go.Figure()
layout = {}
shapes = []
annotations = []

for i, p in enumerate(panels, start=1):
    x0, x1 = COLX[p['col']]
    sfx = '' if i == 1 else str(i)
    xa, ya = 'x' + sfx, 'y' + sfx
    layout['xaxis' + sfx] = dict(
        domain=[x0 / W, x1 / W], range=[-10, 6], anchor=ya,
        showline=True, linecolor='black', linewidth=4, mirror=True,
        ticks='outside', tickmode='array', tickvals=energy_ticks, ticklen=18, tickwidth=4,
        tickcolor='black',
        minor=dict(ticks='outside', tickmode='linear', tick0=-10, dtick=1, ticklen=10,
                   tickwidth=4, tickcolor='black'),
        showticklabels=False, showgrid=False, zeroline=False, fixedrange=True)
    layout['yaxis' + sfx] = dict(
        domain=[1 - p['bot'] / H, 1 - p['top'] / H], range=p['yr'], anchor=xa,
        showline=True, linecolor='black', linewidth=4, mirror=True,
        ticks='outside', tickmode='array', tickvals=p['ticks'], ticklen=17, tickwidth=4,
        tickcolor='black', showticklabels=False,
        showgrid=False, zeroline=False, fixedrange=True)

    for pts, col in p['curves']:
        fig.add_trace(go.Scatter(
            x=[q[0] for q in pts], y=[q[1] for q in pts], mode='lines',
            line=dict(color=col, width=LW), xaxis=xa, yaxis=ya,
            showlegend=False, hoverinfo='skip'))

    # dashed zero line and dotted Fermi level
    shapes.append(dict(type='line', xref=xa, yref=ya, x0=-10, x1=6, y0=0, y1=0, layer='below',
                       line=dict(color='black', width=4, dash='20px,14px')))
    shapes.append(dict(type='line', xref=xa, yref=ya + ' domain', x0=0, x1=0, y0=0, y1=1,
                       layer='below', line=dict(color='black', width=2.5, dash='4px,7px')))

    for v, t in zip(p['labs'], p['text']):
        annotations.append(dict(x=LABX[p['col']] / W, xref='paper', y=v, yref=ya, text=t,
                                xanchor='right', yanchor='middle', showarrow=False, font=TICKFONT))
    tx, ty = p['tpos']
    annotations.append(dict(x=tx / W, xref='paper', y=1 - ty / H, yref='paper', text=p['title'],
                            xanchor='right', yanchor='middle', showarrow=False,
                            font=dict(family=FONT, size=62, color='black')))

    if i in bottom_ids:
        for v, t in zip(energy_ticks, energy_labels):
            annotations.append(dict(x=v, xref=xa, y=1 - 2914 / H, yref='paper', text=t,
                                    xanchor='center', yanchor='middle', showarrow=False,
                                    font=TICKFONT))

# axis titles and panel tags
for txt, x, y, size, ang in [('Energy [eV]', 742, 2992, 74, 0), ('Energy [eV]', 2262, 2992, 74, 0),
                             ('PDOS [states/eV]', 43, 1354, 78, -90),
                             ('(a)', 50, 48, 68, 0), ('(b)', 1538, 48, 68, 0)]:
    annotations.append(dict(x=x / W, xref='paper', y=1 - y / H, yref='paper', text=txt,
                            textangle=ang, xanchor='center', yanchor='middle', showarrow=False,
                            font=dict(family=FONT, size=size, color='black')))

fig.update_layout(width=W, height=H, margin=dict(l=0, r=0, t=0, b=0),
                  paper_bgcolor='white', plot_bgcolor='white',
                  shapes=shapes, annotations=annotations, **layout)

fig.write_html("out.html")
